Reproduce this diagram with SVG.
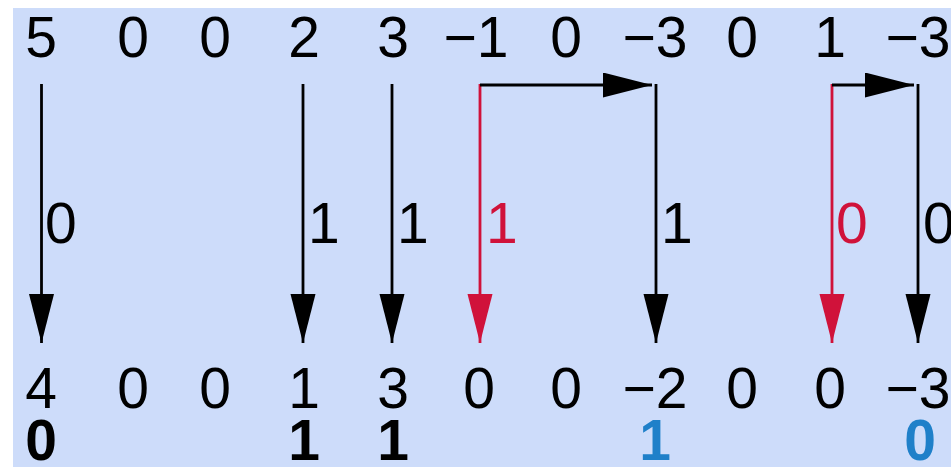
<svg xmlns="http://www.w3.org/2000/svg" width="951" height="467" viewBox="0 0 951 467">
<style>
.t{font-family:"Liberation Sans",Arial,sans-serif;font-size:57px;fill:#000;text-anchor:middle}
.b{font-weight:bold}
.blue{fill:#1f80c9}
.lbl{font-family:"Liberation Sans",Arial,sans-serif;font-size:57px;fill:#000;text-anchor:start}
.red{fill:#d0123a}
.k{stroke:#000;stroke-width:2.8;fill:none}
.r{stroke:#d0123a;stroke-width:2.8;fill:none}
</style>
<defs>
<marker id="ak" markerUnits="userSpaceOnUse" markerWidth="50" markerHeight="26" refX="49" refY="12.5" orient="auto" viewBox="0 0 50 26">
<path d="M0,0 L49,12.5 L0,25 Z" fill="#000"/>
</marker>
<marker id="ar" markerUnits="userSpaceOnUse" markerWidth="50" markerHeight="26" refX="49" refY="12.5" orient="auto" viewBox="0 0 50 26">
<path d="M0,0 L49,12.5 L0,25 Z" fill="#d0123a"/>
</marker>
</defs>
<rect x="0" y="0" width="951" height="467" fill="#ffffff"/>
<rect x="13" y="8" width="938" height="459" fill="#cddcfa"/>
<g id="top-row">
<text class="t" x="41" y="57">5</text>
<text class="t" x="133" y="57">0</text>
<text class="t" x="215" y="57">0</text>
<text class="t" x="304" y="57">2</text>
<text class="t" x="393" y="57">3</text>
<text class="t" x="476" y="57">−1</text>
<text class="t" x="566" y="57">0</text>
<text class="t" x="655" y="57">−3</text>
<text class="t" x="742" y="57">0</text>
<text class="t" x="830" y="57">1</text>
<text class="t" x="918" y="57">−3</text>
</g>
<g id="connectors">
<line class="k" x1="41.5" y1="84" x2="41.5" y2="343" marker-end="url(#ak)"/>
<line class="k" x1="303" y1="84" x2="303" y2="343" marker-end="url(#ak)"/>
<line class="k" x1="392" y1="84" x2="392" y2="343" marker-end="url(#ak)"/>
<line class="r" x1="480" y1="84" x2="480" y2="343" marker-end="url(#ar)"/>
<line class="k" x1="480" y1="85" x2="652" y2="85" marker-end="url(#ak)"/>
<line class="k" x1="656" y1="84" x2="656" y2="343" marker-end="url(#ak)"/>
<line class="r" x1="832" y1="84" x2="832" y2="343" marker-end="url(#ar)"/>
<line class="k" x1="832" y1="85" x2="914" y2="85" marker-end="url(#ak)"/>
<line class="k" x1="918" y1="84" x2="918" y2="343" marker-end="url(#ak)"/>
</g>
<g id="labels">
<text class="lbl" x="45" y="243">0</text>
<text class="lbl" x="308" y="243">1</text>
<text class="lbl" x="397" y="243">1</text>
<text class="lbl red" x="486" y="243">1</text>
<text class="lbl" x="661" y="243">1</text>
<text class="lbl red" x="836" y="243">0</text>
<text class="lbl" x="923" y="243">0</text>
</g>
<g id="bottom-row">
<text class="t" x="41" y="408">4</text>
<text class="t" x="133" y="408">0</text>
<text class="t" x="215" y="408">0</text>
<text class="t" x="304" y="408">1</text>
<text class="t" x="393" y="408">3</text>
<text class="t" x="479" y="408">0</text>
<text class="t" x="566" y="408">0</text>
<text class="t" x="655" y="408">−2</text>
<text class="t" x="742" y="408">0</text>
<text class="t" x="830" y="408">0</text>
<text class="t" x="918" y="408">−3</text>
</g>
<g id="bits">
<text class="t b" x="41" y="460">0</text>
<text class="t b" x="304" y="460">1</text>
<text class="t b" x="393" y="460">1</text>
<text class="t b blue" x="655" y="460">1</text>
<text class="t b blue" x="920" y="460">0</text>
</g>
</svg>
